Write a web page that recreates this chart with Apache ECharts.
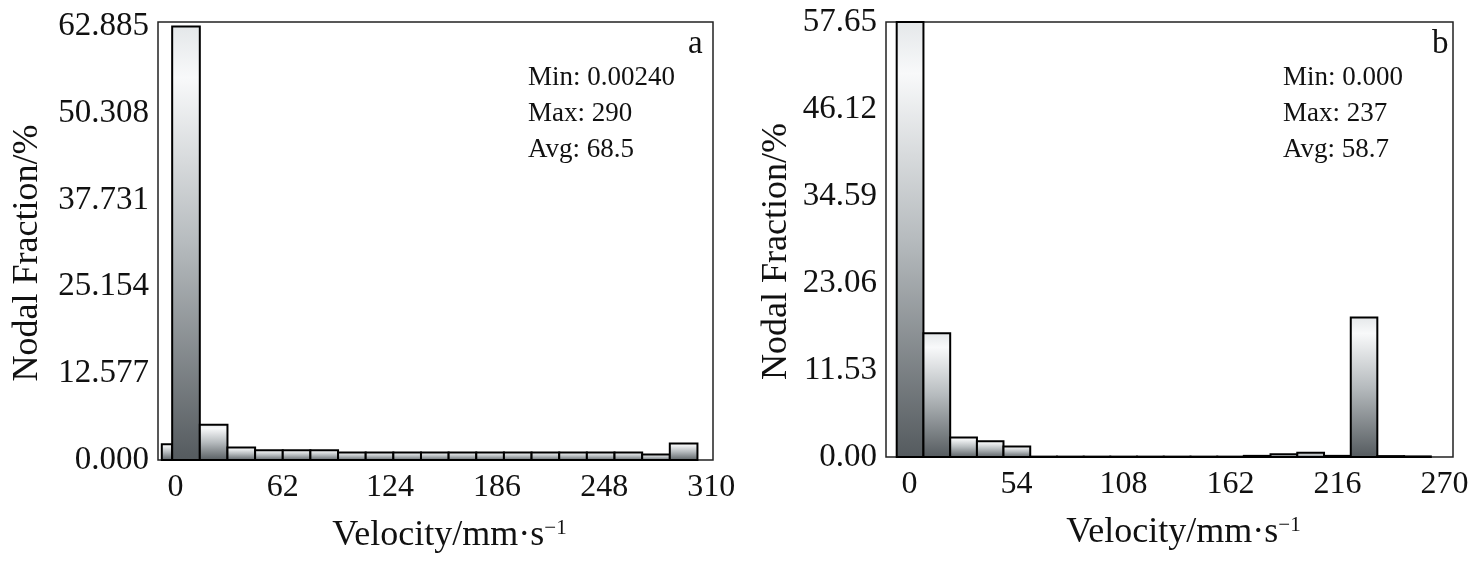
<!DOCTYPE html>
<html>
<head>
<meta charset="utf-8">
<script src="https://cdn.jsdelivr.net/npm/echarts@6/dist/echarts.min.js"></script>
<style>
  html, body { margin: 0; padding: 0; background: #fff; }
  #main { width: 1474px; height: 562px; }
</style>
</head>
<body>
<div id="main"></div>
<script>
var myChart = echarts.init(document.getElementById('main'));

// 直方图 a：区间边界与高度
var edgesA = [-8, -2, 14, 30, 46, 62, 78, 94, 110, 126, 142, 158, 174, 190, 206, 222, 238, 254, 270, 286, 302];
var heightsA = [2.3, 62.885, 5.1, 1.8, 1.4, 1.4, 1.4, 1.1, 1.1, 1.1, 1.1, 1.1, 1.1, 1.1, 1.1, 1.1, 1.1, 1.1, 0.8, 2.4];
var yTicksA = [0, 12.577, 25.154, 37.731, 50.308, 62.885];
var xTicksA = [0, 62, 124, 186, 248, 310];
var statsA = ['Min: 0.00240', 'Max: 290', 'Avg: 68.5'];

// 直方图 b
var edgesB = [-6.5, 7, 20.5, 34, 47.4, 60.9, 74.4, 87.9, 101.3, 114.8, 128.3, 141.8, 155.3, 168.7, 182.2, 195.7, 209.2, 222.7, 236.1, 249.6, 263.1];
var heightsB = [57.65, 16.4, 2.6, 2.1, 1.4, 0.05, 0.05, 0.05, 0.05, 0.05, 0.05, 0.05, 0.05, 0.15, 0.35, 0.55, 0.15, 18.5, 0.12, 0.08];
var yTicksB = [0, 11.53, 23.06, 34.59, 46.12, 57.65];
var xTicksB = [0, 54, 108, 162, 216, 270];
var statsB = ['Min: 0.000', 'Max: 237', 'Avg: 58.7'];

var FONT = 'Liberation Serif';

function binData(edges, heights) {
    return heights.map(function (h, i) {
        return [edges[i], edges[i + 1], h];
    });
}

function renderBin(params, api) {
    var p0 = api.coord([api.value(0), api.value(2)]);
    var p1 = api.coord([api.value(1), 0]);
    return {
        type: 'rect',
        shape: { x: p0[0], y: p0[1], width: p1[0] - p0[0], height: p1[1] - p0[1] },
        style: {
            fill: new echarts.graphic.LinearGradient(0, 0, 0, 1, [
                { offset: 0, color: '#e4e7e9' },
                { offset: 0.12, color: '#f8f9fa' },
                { offset: 0.5, color: '#b6bbbe' },
                { offset: 1, color: '#545a5e' }
            ]),
            stroke: '#000',
            lineWidth: 2
        }
    };
}

function xAxisOf(idx, min, max, ticks) {
    return {
        gridIndex: idx,
        type: 'value',
        min: min,
        max: max,
        name: 'Velocity/mm·s{sup|−1}',
        nameLocation: 'middle',
        nameGap: 58,
        nameTextStyle: {
            fontFamily: FONT, fontSize: 36, color: '#111',
            padding: [0, 0, 0, 28],
            rich: { sup: { fontFamily: FONT, fontSize: 21, color: '#111', verticalAlign: 'top', lineHeight: 14 } }
        },
        axisLine: { show: false },
        axisTick: { show: false },
        splitLine: { show: false },
        axisLabel: {
            customValues: ticks,
            fontFamily: FONT, fontSize: 32, color: '#111', margin: 12
        }
    };
}

function yAxisOf(idx, max, ticks, digits, gap) {
    return {
        gridIndex: idx,
        type: 'value',
        min: 0,
        max: max,
        name: 'Nodal Fraction/%',
        nameLocation: 'middle',
        nameGap: gap,
        nameTextStyle: { fontFamily: FONT, fontSize: 36, color: '#111', padding: [0, 24, 0, 0] },
        axisLine: { show: false },
        axisTick: { show: true, inside: true, length: 7, customValues: ticks, lineStyle: { color: '#222', width: 1.5 } },
        splitLine: { show: false },
        axisLabel: {
            customValues: ticks,
            fontFamily: FONT, fontSize: 33, color: '#111', margin: 9,
            formatter: function (v) { return v.toFixed(digits); }
        }
    };
}

function statText(lines, x, letter, lx) {
    var items = lines.map(function (t, i) {
        return {
            type: 'text', left: x, top: 64 + i * 36,
            style: { text: t, font: '27px ' + FONT, fill: '#111' }
        };
    });
    items.push({
        type: 'text', left: lx, top: 28,
        style: { text: letter, font: '33px ' + FONT, fill: '#111' }
    });
    return items;
}

var option = {
    animation: false,
    grid: [
        { left: 158, right: 761, top: 22, bottom: 102, show: true, borderColor: '#222', borderWidth: 1.5, backgroundColor: '#fff' },
        { left: 886, right: 21, top: 22, bottom: 105, show: true, borderColor: '#222', borderWidth: 1.5, backgroundColor: '#fff' }
    ],
    xAxis: [
        xAxisOf(0, -10.2, 311, xTicksA),
        xAxisOf(1, -11.9, 274.3, xTicksB)
    ],
    yAxis: [
        yAxisOf(0, 63.55, yTicksA, 3, 112),
        yAxisOf(1, 57.65, yTicksB, 2, 91)
    ],
    series: [
        {
            type: 'custom', xAxisIndex: 0, yAxisIndex: 0,
            renderItem: renderBin,
            encode: { x: [0, 1], y: 2 },
            data: binData(edgesA, heightsA)
        },
        {
            type: 'custom', xAxisIndex: 1, yAxisIndex: 1,
            renderItem: renderBin,
            encode: { x: [0, 1], y: 2 },
            data: binData(edgesB, heightsB)
        }
    ],
    graphic: statText(statsA, 528, 'a', 688).concat(statText(statsB, 1283, 'b', 1432))
};

myChart.setOption(option);
</script>
</body>
</html>
